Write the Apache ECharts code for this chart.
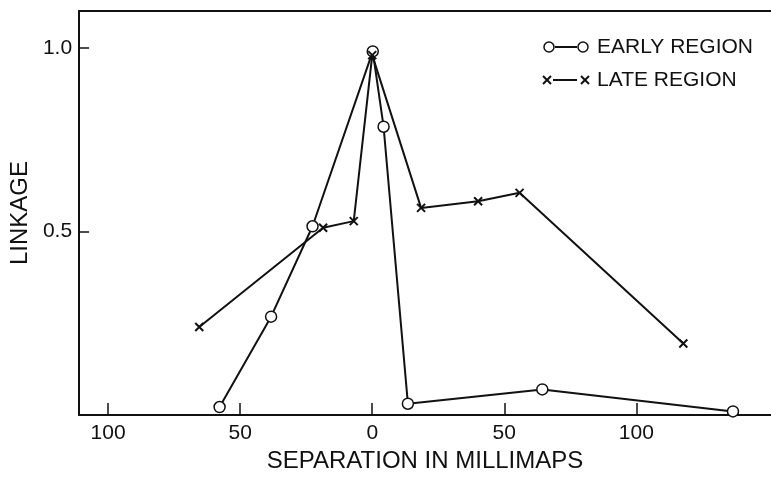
<!DOCTYPE html>
<html><head><meta charset="utf-8">
<script src="https://cdn.jsdelivr.net/npm/echarts@6/dist/echarts.min.js"></script>
<style>html,body{margin:0;padding:0;background:#fff}#c{width:771px;height:478px}</style>
</head><body><div id="c"></div>
<script>
// Data (separation in millimaps, negative = left side; linkage)
const earlyX = [-57.8, -38.3, -22.6, 0.2, 4.3, 13.5, 64.4, 136.6];
const earlyY = [0.022, 0.268, 0.514, 0.99, 0.785, 0.031, 0.070, 0.010];
const lateX = [-65.5, -18.6, -7.0, 0.0, 18.5, 40.1, 55.8, 117.8];
const lateY = [0.24, 0.51, 0.528, 0.98, 0.564, 0.582, 0.605, 0.195];
const xTicks = [-100, -50, 0, 50, 100];
const yTicks = [0.5, 1.0];

const FONT = 'Liberation Sans';
const INK = '#111';
const pair = (xs, ys) => xs.map((x, i) => [x, ys[i]]);

const chart = echarts.init(document.getElementById('c'));
chart.setOption({
  animation: false,
  backgroundColor: '#fff',
  grid: { left: 77, top: 11, right: 0, bottom: 60 },
  xAxis: [{
    type: 'value', min: -111, max: 151,
    axisLine: { show: true, onZero: false, lineStyle: { color: INK, width: 2 } },
    axisTick: { show: true, inside: true, length: 12, customValues: xTicks, lineStyle: { color: INK, width: 1.5 } },
    axisLabel: { customValues: xTicks, formatter: v => String(Math.abs(v)), fontFamily: FONT, fontSize: 21, color: INK, margin: 8 },
    splitLine: { show: false },
    name: 'SEPARATION IN MILLIMAPS', nameLocation: 'middle', nameGap: 29,
    nameTextStyle: { fontFamily: FONT, fontSize: 24, color: INK }
  }, {
    type: 'value', position: 'top', min: -111, max: 151,
    axisLine: { show: true, onZero: false, lineStyle: { color: INK, width: 2 } },
    axisTick: { show: false }, axisLabel: { show: false }, splitLine: { show: false }
  }],
  yAxis: {
    type: 'value', min: 0, max: 1.1,
    axisLine: { show: true, onZero: false, lineStyle: { color: INK, width: 2 } },
    axisTick: { show: true, inside: true, length: 10, customValues: yTicks, lineStyle: { color: INK, width: 1.5 } },
    axisLabel: { customValues: yTicks, formatter: v => v.toFixed(1), fontFamily: FONT, fontSize: 21, color: INK, margin: 7 },
    splitLine: { show: false },
    name: 'LINKAGE', nameLocation: 'middle', nameGap: 43,
    nameTextStyle: { fontFamily: FONT, fontSize: 24, color: INK }
  },
  series: [{
    name: 'EARLY REGION', type: 'line', data: pair(earlyX, earlyY),
    symbol: 'circle', symbolSize: 11, showAllSymbol: true,
    lineStyle: { color: INK, width: 2 },
    itemStyle: { color: '#fff', borderColor: INK, borderWidth: 1.5 }, z: 3
  }, {
    name: 'LATE REGION', type: 'line', data: pair(lateX, lateY),
    symbol: 'path://M0,0L10,10M10,0L0,10', symbolSize: 8, showAllSymbol: true,
    lineStyle: { color: INK, width: 2 },
    itemStyle: { color: 'none', borderColor: INK, borderWidth: 2 }, z: 4
  }],
  graphic: [
    { type: 'line', shape: { x1: 555, y1: 47, x2: 577, y2: 47 }, style: { stroke: INK, lineWidth: 2 } },
    { type: 'circle', shape: { cx: 549, cy: 47, r: 5 }, style: { fill: '#fff', stroke: INK, lineWidth: 1.5 } },
    { type: 'circle', shape: { cx: 583, cy: 47, r: 5 }, style: { fill: '#fff', stroke: INK, lineWidth: 1.5 } },
    { type: 'text', x: 597, y: 47, style: { text: 'EARLY REGION', fontFamily: FONT, fontSize: 21, fill: INK, verticalAlign: 'middle' } },
    { type: 'line', shape: { x1: 553, y1: 80, x2: 577, y2: 80 }, style: { stroke: INK, lineWidth: 2 } },
    { type: 'polyline', shape: { points: [[543, 76], [551, 84]] }, style: { stroke: INK, lineWidth: 2 } },
    { type: 'polyline', shape: { points: [[551, 76], [543, 84]] }, style: { stroke: INK, lineWidth: 2 } },
    { type: 'polyline', shape: { points: [[581, 76], [589, 84]] }, style: { stroke: INK, lineWidth: 2 } },
    { type: 'polyline', shape: { points: [[589, 76], [581, 84]] }, style: { stroke: INK, lineWidth: 2 } },
    { type: 'text', x: 597, y: 80, style: { text: 'LATE REGION', fontFamily: FONT, fontSize: 21, fill: INK, verticalAlign: 'middle' } }
  ]
});
</script></body></html>
